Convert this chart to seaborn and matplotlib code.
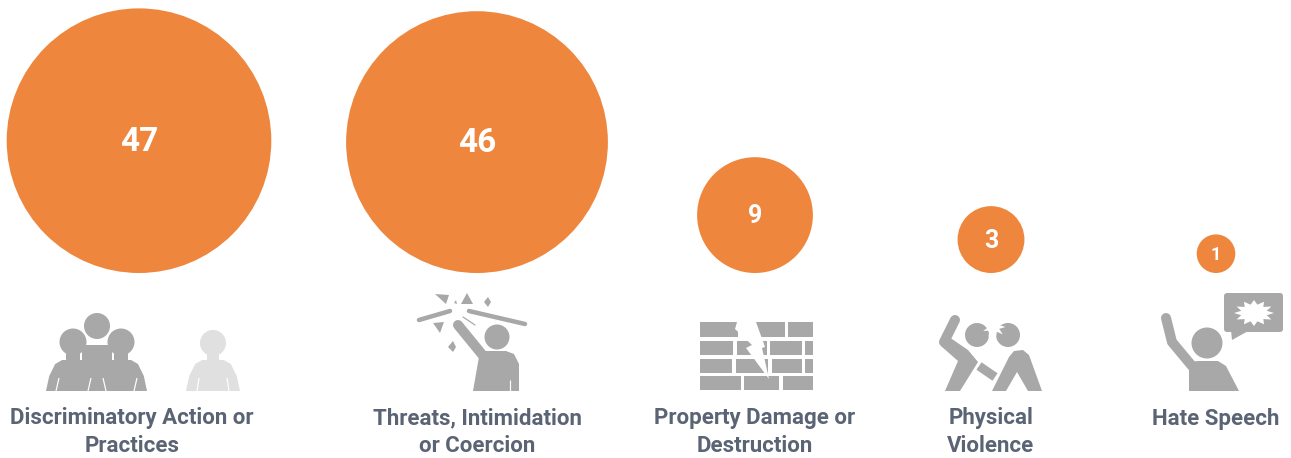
# -*- coding: utf-8 -*-

import numpy as np
import pandas as pd
import matplotlib.pyplot as plt
import seaborn as sns
from matplotlib.patches import Circle, Polygon, Rectangle, FancyBboxPatch

categories = ['Discriminatory Action or\nPractices', 'Threats, Intimidation\nor Coercion',
              'Property Damage or\nDestruction', 'Physical\nViolence', 'Hate Speech']
counts = [47, 46, 9, 3, 1]

# layout, in pixels of the picture
centers = [139, 477, 755, 991, 1216]
label_x = [132, 477, 755, 991, 1216]
number_size = [24, 24, 18, 18, 13]
baseline = 273
px_per_sqrt = 38.6

ORANGE = '#EE873D'
GRAY = '#A8A8A8'
LIGHT = '#E0E0E0'
TEXT = '#5A6475'

sns.set_theme(style='white')
plt.rcParams['font.family'] = ['Roboto', 'DejaVu Sans']

fig = plt.figure(figsize=(12.91, 4.58), dpi=100)
ax = fig.add_axes([0, 0, 1, 1])

df = pd.DataFrame({'x': centers, 'count': counts})
df['diam'] = px_per_sqrt * np.sqrt(df['count'])
df['y'] = baseline - df['diam'] / 2
# area follows the count; s is in points^2
k = (px_per_sqrt * 0.72) ** 2
sns.scatterplot(data=df, x='x', y='y', size='count', sizes=(k * min(counts), k * max(counts)),
                color=ORANGE, linewidth=0, legend=False, ax=ax, zorder=2)
ax.set_xlim(0, 1291)
ax.set_ylim(458, 0)
ax.axis('off')

for i in range(len(counts)):
    ax.text(centers[i], df['y'][i] + 1, str(counts[i]), color='white', fontsize=number_size[i],
            fontweight='bold', ha='center', va='center', zorder=3)
    ax.text(label_x[i], 432 if '\n' in categories[i] else 419, categories[i], color=TEXT, fontsize=16,
            fontweight='bold', ha='center', va='center', linespacing=1.32)


def poly(pts, color=GRAY, z=4):
    ax.add_patch(Polygon(pts, closed=True, fc=color, ec='none', zorder=z))


def stick(pts, w, color=GRAY, z=4, cap='round'):
    xs, ys = zip(*pts)
    ax.plot(xs, ys, color=color, lw=w * 0.72, solid_capstyle=cap, solid_joinstyle='round', zorder=z)


def head(x, y, r, color=GRAY, z=4):
    ax.add_patch(Circle((x, y), r, fc=color, ec='none', zorder=z))


def person(x0, x1, color):
    # shoulders with rounded corners, down to the icon floor
    w = x1 - x0
    poly([(x0, 391), (x0 + w * 0.06, 376), (x0 + w * 0.17, 364), (x0 + w * 0.3, 360), (x0 + w * 0.7, 360),
          (x0 + w * 0.83, 364), (x0 + w * 0.94, 376), (x1, 391)], color)


# group and the lighter single person
person(46, 100, GRAY)
person(94, 147, GRAY)
head(73, 342, 13.5)
head(121, 342, 13.5)
poly([(66, 350), (80, 350), (80, 362), (66, 362)])
poly([(114, 350), (128, 350), (128, 362), (114, 362)])
poly([(82, 345), (112, 345), (112, 391), (82, 391)])
head(97, 326, 14.5, 'white', 5)
head(97, 326, 13, GRAY, 6)
for x in [(56, 59), (88, 91), (106, 103), (134, 137)]:
    stick([(x[0], 391), (x[1], 378)], 1.2, 'white', 5, 'butt')
person(186, 240, LIGHT)
head(213, 343, 13, LIGHT)
poly([(207, 350), (219, 350), (219, 362), (207, 362)], LIGHT)
for x in [(197, 199), (229, 227)]:
    stick([(x[0], 391), (x[1], 378)], 1.2, 'white', 5, 'butt')

# threats
head(497, 337, 12.5)
stick([(458, 325), (485, 358)], 10)
poly([(473, 391), (480, 351), (506, 351), (514, 354), (519, 364), (519, 391)])
stick([(510, 380), (510, 391)], 1.2, 'white', 5, 'butt')
stick([(419, 320), (450, 311)], 4.5)
stick([(469, 311), (525, 324)], 4.5)
stick([(463, 317), (475, 325)], 1.2)
poly([(435, 294), (449, 295), (446, 304)])
poly([(461, 304), (467, 293), (473, 304)])
poly([(484, 302), (488, 297), (491, 302), (488, 307)])
poly([(454, 303), (456, 300), (457, 304)])
poly([(433, 323), (444, 322), (440, 333)])
poly([(448, 347), (453, 341), (456, 347), (453, 352)])

# wall with the lightning crack
rows = [(322, 337, [(700, 738), (755, 785), (788, 813)]),
        (341, 355, [(700, 733), (737, 767), (770, 802), (805, 813)]),
        (359, 373, [(700, 732), (736, 768), (772, 802), (805, 813)]),
        (376, 390, [(700, 741), (744, 779), (783, 813)])]
for y0, y1, spans in rows:
    for x0, x1 in spans:
        ax.add_patch(Rectangle((x0, y0), x1 - x0, y1 - y0, fc=GRAY, ec='none', zorder=4))
poly([(737, 322), (756, 322), (765, 347), (762, 348), (769, 379), (746, 348), (752, 345), (735, 329)], 'white', 5)

# physical violence
head(977, 335, 12)
head(1008, 335, 12)
burst = np.linspace(0, 2 * np.pi, 19)[:-1]
rad = np.where(np.arange(18) % 2 == 0, 11.5, 5.5)
poly(list(zip(994 + rad * np.cos(burst), 327 + rad * np.sin(burst))), 'white', 5)
stick([(955, 320), (944, 342), (960, 353)], 10)
poly([(941, 346), (949, 337), (968, 350), (978, 362), (960, 391), (945, 391), (958, 361)])
stick([(979, 366), (995, 377)], 9, cap='butt')
poly([(992, 391), (1009, 357), (1014, 351), (1023, 350), (1029, 355), (1042, 391), (1028, 391),
      (1017, 372), (1006, 391)])

# hate speech
head(1207, 343, 15.5)
stick([(1166, 318), (1172, 342), (1192, 366)], 10)
poly([(1189, 391), (1189, 362), (1198, 361), (1218, 361), (1226, 366), (1239, 391)])
ax.add_patch(FancyBboxPatch((1224, 293), 59, 39, boxstyle='round,pad=0,rounding_size=3', fc=GRAY, ec='none', zorder=4))
poly([(1231, 330), (1232, 340), (1250, 330)])
burst = np.linspace(0, 2 * np.pi, 25)[:-1]
rad = np.where(np.arange(24) % 2 == 0, 1.0, 0.66)
poly(list(zip(1254 + 20 * rad * np.cos(burst), 313 + 13 * rad * np.sin(burst))), 'white', 5)

plt.savefig('out.png', dpi=100)
